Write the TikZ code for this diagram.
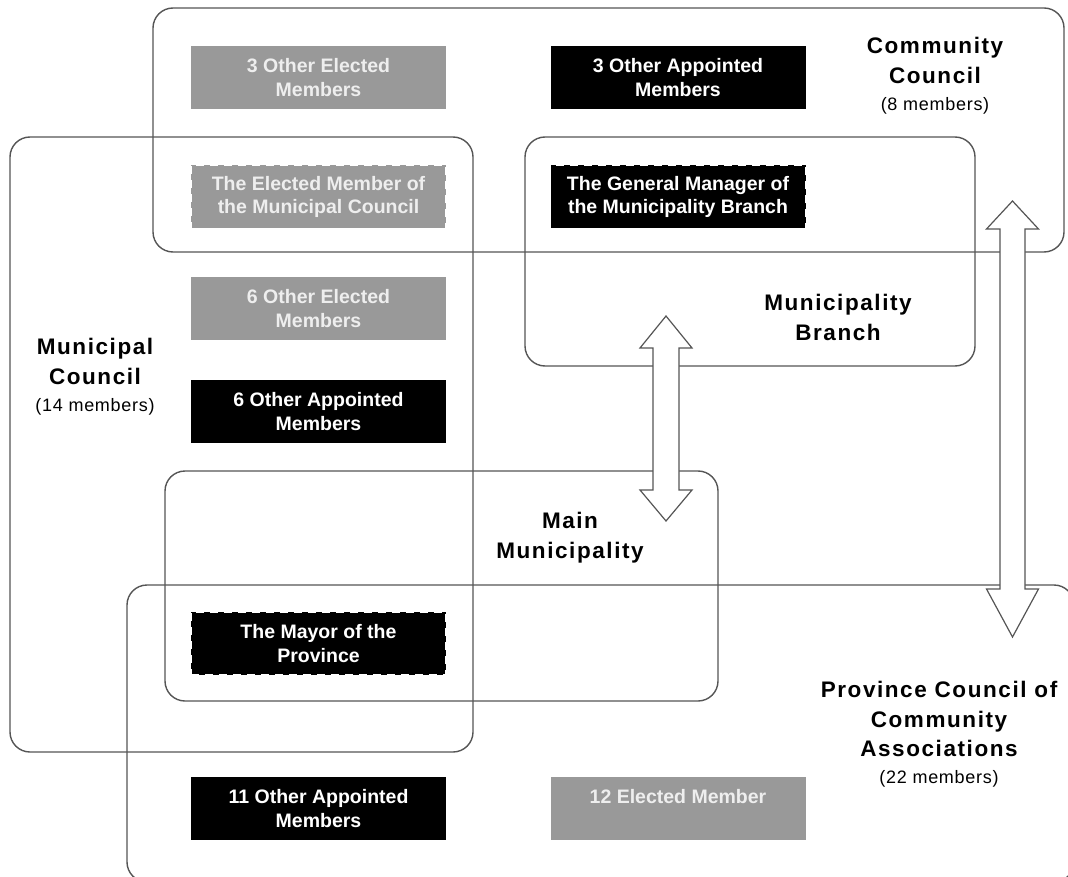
\documentclass[tikz,border=0pt]{standalone}
\usepackage{fontspec}
\setmainfont{Liberation Sans}
\newfontfamily\labelfont{Liberation Sans}[LetterSpace=7]
\newfontfamily\tallyfont{Liberation Sans}[LetterSpace=4]
\newcommand\membersline{\tallyfont\mdseries\fontsize{18}{22}\selectfont}
\definecolor{edge}{HTML}{555555}
\definecolor{midgray}{HTML}{999999}
\definecolor{paletext}{HTML}{EEEEEE}
\begin{document}
\begin{tikzpicture}[x=1pt,y=-1pt,
  region/.style={draw=edge,line width=1.4pt,rounded corners=20pt,rectangle,
    inner sep=0pt,outer sep=0pt},
  member/.style={rectangle,inner sep=0pt,outer sep=0pt,
    minimum width=255pt,minimum height=63pt,align=center,
    font=\bfseries\fontsize{19.5}{23.5}\selectfont},
  elected/.style={member,fill=midgray,text=paletext},
  appointed/.style={member,fill=black,text=white},
  shared/.style={draw=white,line width=1.6pt,dash pattern=on 8pt off 6pt},
  grouplabel/.style={align=center,anchor=north,inner sep=0pt,
    font=\labelfont\bfseries\fontsize{22.5}{29.5}\selectfont},
  blockarrow/.style={draw=edge,fill=white,line width=1.2pt,line join=miter}]
\useasboundingbox (0,0) rectangle (1068,877);
\clip (0,0) rectangle (1068,877);

% organisational regions
\node[region,minimum width=911pt,minimum height=244pt] (community) at (608.5,130) {};
\node[region,minimum width=463pt,minimum height=615pt] (municipal) at (241.5,444.5) {};
\node[region,minimum width=450pt,minimum height=229pt] (branch) at (750,251.5) {};
\node[region,minimum width=553pt,minimum height=230pt] (mainmun) at (441.5,586) {};
\node[region,minimum width=947pt,minimum height=297pt] (province) at (600.5,733.5) {};

% member boxes
\node[elected] (ce) at (318.5,77.5) {3 Other Elected\\Members};
\node[appointed] (ca) at (678,77.5) {3 Other Appointed\\Members};
\node[elected,shared] (em) at (318.5,197) {The Elected Member of\\the Municipal Council};
\node[appointed,shared] (gm) at (678,197) {The General Manager of\\the Municipality Branch};
\node[elected] (me) at (318.5,308.5) {6 Other Elected\\Members};
\node[appointed] (ma) at (318.5,411.5) {6 Other Appointed\\Members};
\node[appointed,shared] (mayor) at (318.5,643.5) {The Mayor of the\\Province};
\node[appointed] (pa) at (318.5,808.5) {11 Other Appointed\\Members};
\node[elected] (pe) at (678,808.5) {12 Elected Member\\\mbox{}};

% two-way links between bodies
\coordinate (a1n) at (666,316);
\coordinate (a1s) at (666,521);
\draw[blockarrow] (a1n) -- ++(26,32) -- ++(-13,0) -- ++(0,142) -- ++(13,0)
  -- (a1s) -- ++(-26,-31) -- ++(13,0) -- ++(0,-142) -- ++(-13,0) -- cycle;
\coordinate (a2n) at (1012.5,201);
\coordinate (a2s) at (1012.5,637);
\draw[blockarrow] (a2n) -- ++(26,28) -- ++(-13.5,0) -- ++(0,360) -- ++(13.5,0)
  -- (a2s) -- ++(-26,-48) -- ++(13.5,0) -- ++(0,-360) -- ++(-13.5,0) -- cycle;

% region titles
\node[grouplabel] (lcommunity) at (935,37) {Community\\Council\\[-2.5pt]{\membersline (8 members)}};
\node[grouplabel] (lbranch) at (838,294) {Municipality\\Branch};
\node[grouplabel] (lmunicipal) at (95,338) {Municipal\\Council\\[-2.5pt]{\membersline (14 members)}};
\node[grouplabel] (lmain) at (570,512) {Main\\Municipality};
\node[grouplabel] (lprovince) at (939,681) {Province Council of\\Community\\Associations\\[-2.5pt]{\membersline (22 members)}};
\end{tikzpicture}
\end{document}
